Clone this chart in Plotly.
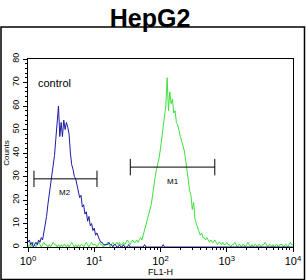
import math
import plotly.graph_objects as go

# log10(FL1-H) channel positions, step 0.02 from 0 to 4
log_pos = [round(i * 0.02, 2) for i in range(201)]

control_counts = [
    2, 3, 1, 2, 0, 1, 2, 1, 3, 2, 4, 3, 6, 9, 13, 18, 22, 25, 29, 34,
    39, 46, 53, 60, 47, 53, 47, 54, 50, 53, 51, 48, 40, 35, 33, 30, 29, 26, 24, 21,
    22, 17, 18, 14, 15, 11, 13, 9, 10, 7, 8, 5, 6, 4, 3, 2, 2, 1, 1, 1,
    1, 2, 1, 1, 0, 1, 1, 0, 0, 1, 0, 0, 1, 0, 0, 0, 1, 0, 0, 0,
    0, 0, 0, 0, 0, 0, 0, 0, 1, 0, 0, 0, 0, 0, 0, 0, 0, 0, 0, 0,
    0, 0, 1, 0, 0, 0, 0, 0, 0, 0, 0, 0, 0, 0, 0, 0, 0, 0, 0, 0,
    0, 0, 0, 0, 0, 0, 0, 0, 0, 0, 0, 0, 0, 0, 0, 0, 0, 0, 0, 0,
    0, 0, 0, 0, 0, 0, 0, 0, 0, 0, 0, 0, 0, 0, 0, 0, 0, 0, 0, 0,
    0, 0, 0, 0, 0, 0, 0, 0, 0, 0, 0, 0, 0, 0, 0, 0, 0, 0, 0, 0,
    0, 0, 0, 0, 0, 0, 0, 0, 0, 0, 0, 0, 0, 0, 0, 0, 0, 0, 0, 0,
    0,
]

sample_counts = [
    0, 1, 0, 1, 2, 1, 0, 1, 2, 1, 0, 1, 2, 1, 1, 0, 1, 0, 1, 2,
    1, 1, 0, 1, 0, 1, 0, 1, 1, 0, 1, 0, 1, 2, 1, 0, 1, 0, 1, 0,
    1, 1, 0, 1, 2, 1, 0, 1, 2, 1, 1,
    1, 0, 1, 2, 1, 1, 0, 1, 1, 2, 1, 0, 1, 2, 1, 1, 2, 1, 2, 1,
    1, 2, 1, 2, 3, 2, 1, 2, 3, 2,
    2, 3, 2, 3, 4, 3, 5, 7, 9, 12, 14, 16, 18, 22, 27, 30, 33, 35, 38,
    42, 47, 52, 56, 60, 72, 58, 66, 61, 63, 57, 58, 53, 52, 49, 47, 45, 43, 41, 37,
    33, 27, 24, 22, 16, 19, 12, 10, 8, 7, 5, 6, 4, 4, 3, 4, 3, 2, 3, 2,
    2, 3, 2, 1, 2, 2, 1, 2, 1, 1, 2,
    1, 1, 0, 1, 1, 2, 1, 0, 1, 1, 0, 1, 1, 0, 1, 2, 1, 0, 1, 0,
    1, 1, 0, 1, 1, 0, 1, 1, 2, 1, 0, 1, 1, 0, 1, 0, 1, 1, 0, 1,
    1, 1, 0, 1, 1, 0, 1, 2, 1, 1,
]

# Marker gates: (label, low, high, count level)
gate_labels = ["M2", "M1"]
gate_low = [1.23, 35]
gate_high = [11, 660]
gate_level = [29, 34]
cap_half = 3.5

x_tickvals = [1, 10, 100, 1000, 10000]
x_ticktext = ["10<sup>0</sup>", "10<sup>1</sup>", "10<sup>2</sup>", "10<sup>3</sup>", "10<sup>4</sup>"]
y_tickvals = [0, 10, 20, 30, 40, 50, 60, 70, 80]

fl1 = [10 ** p for p in log_pos]

fig = go.Figure()
fig.add_trace(go.Scatter(x=fl1, y=sample_counts, mode="lines",
                         line=dict(color="#3ee03e", width=1), showlegend=False))
fig.add_trace(go.Scatter(x=fl1, y=control_counts, mode="lines",
                         line=dict(color="#1c1ca8", width=1), showlegend=False))

gx, gy = [], []
for lo, hi, lv in zip(gate_low, gate_high, gate_level):
    gx += [lo, hi, None, lo, lo, None, hi, hi, None]
    gy += [lv, lv, None, lv - cap_half, lv + cap_half, None, lv - cap_half, lv + cap_half, None]
fig.add_trace(go.Scatter(x=gx, y=gy, mode="lines", line=dict(color="black", width=1),
                         showlegend=False, hoverinfo="skip"))

for lab, lo, hi, lv in zip(gate_labels, gate_low, gate_high, gate_level):
    mid = (lo * hi) ** 0.5
    fig.add_annotation(x=math.log10(mid), y=lv - 6, text=lab, showarrow=False,
                       font=dict(size=8, color="black"))

fig.add_annotation(x=0.12, y=70, xref="x", yref="y", text="control", showarrow=False,
                   xanchor="left", font=dict(size=11, color="black"))

minor_vals = [m * 10 ** k for k in range(4) for m in range(2, 10)]

L, R, T, B = 28, 13, 59, 33
W, H = 306, 280
pw, ph = W - L - R, H - T - B
fig.add_shape(type="rect", xref="paper", yref="paper",
              x0=(1 - L) / pw, x1=(W - 1.5 - L) / pw,
              y0=-(B - 0.5) / ph, y1=(H - T - 1) / ph,
              line=dict(color="black", width=1.5), fillcolor="rgba(0,0,0,0)")

fig.update_layout(
    width=W, height=H,
    margin=dict(l=L, r=R, t=T, b=B, autoexpand=False),
    paper_bgcolor="white", plot_bgcolor="white",
    font=dict(family="Liberation Sans, Arial", color="black"),
    title=dict(text="<b>HepG2</b>", x=150 / W, xref="container", xanchor="center",
               y=1 - 18 / H, yref="container", yanchor="middle",
               font=dict(size=25, color="black")),
)
fig.update_xaxes(type="log", range=[0, 4], tickvals=x_tickvals, ticktext=x_ticktext,
                 automargin=False,
                 ticks="outside", ticklen=4, tickwidth=1, tickcolor="black",
                 showline=True, linecolor="black", linewidth=1, mirror=True,
                 showgrid=False, zeroline=False, tickfont=dict(size=11),
                 minor=dict(tickvals=minor_vals, ticks="outside", ticklen=2, tickcolor="black", showgrid=False),
                 title=dict(text="FL1-H", font=dict(size=9), standoff=0))
fig.update_yaxes(range=[0, 80], tickvals=y_tickvals, tickangle=-90,
                 automargin=False,
                 ticks="outside", ticklen=4, tickwidth=1, tickcolor="black",
                 showline=True, linecolor="black", linewidth=1, mirror=True,
                 showgrid=False, zeroline=False, tickfont=dict(size=9),
                 minor=dict(dtick=2, ticks="outside", ticklen=2, tickcolor="black", showgrid=False),
                 title=dict(text="Counts", font=dict(size=8), standoff=0))

fig.write_html("out.html")
